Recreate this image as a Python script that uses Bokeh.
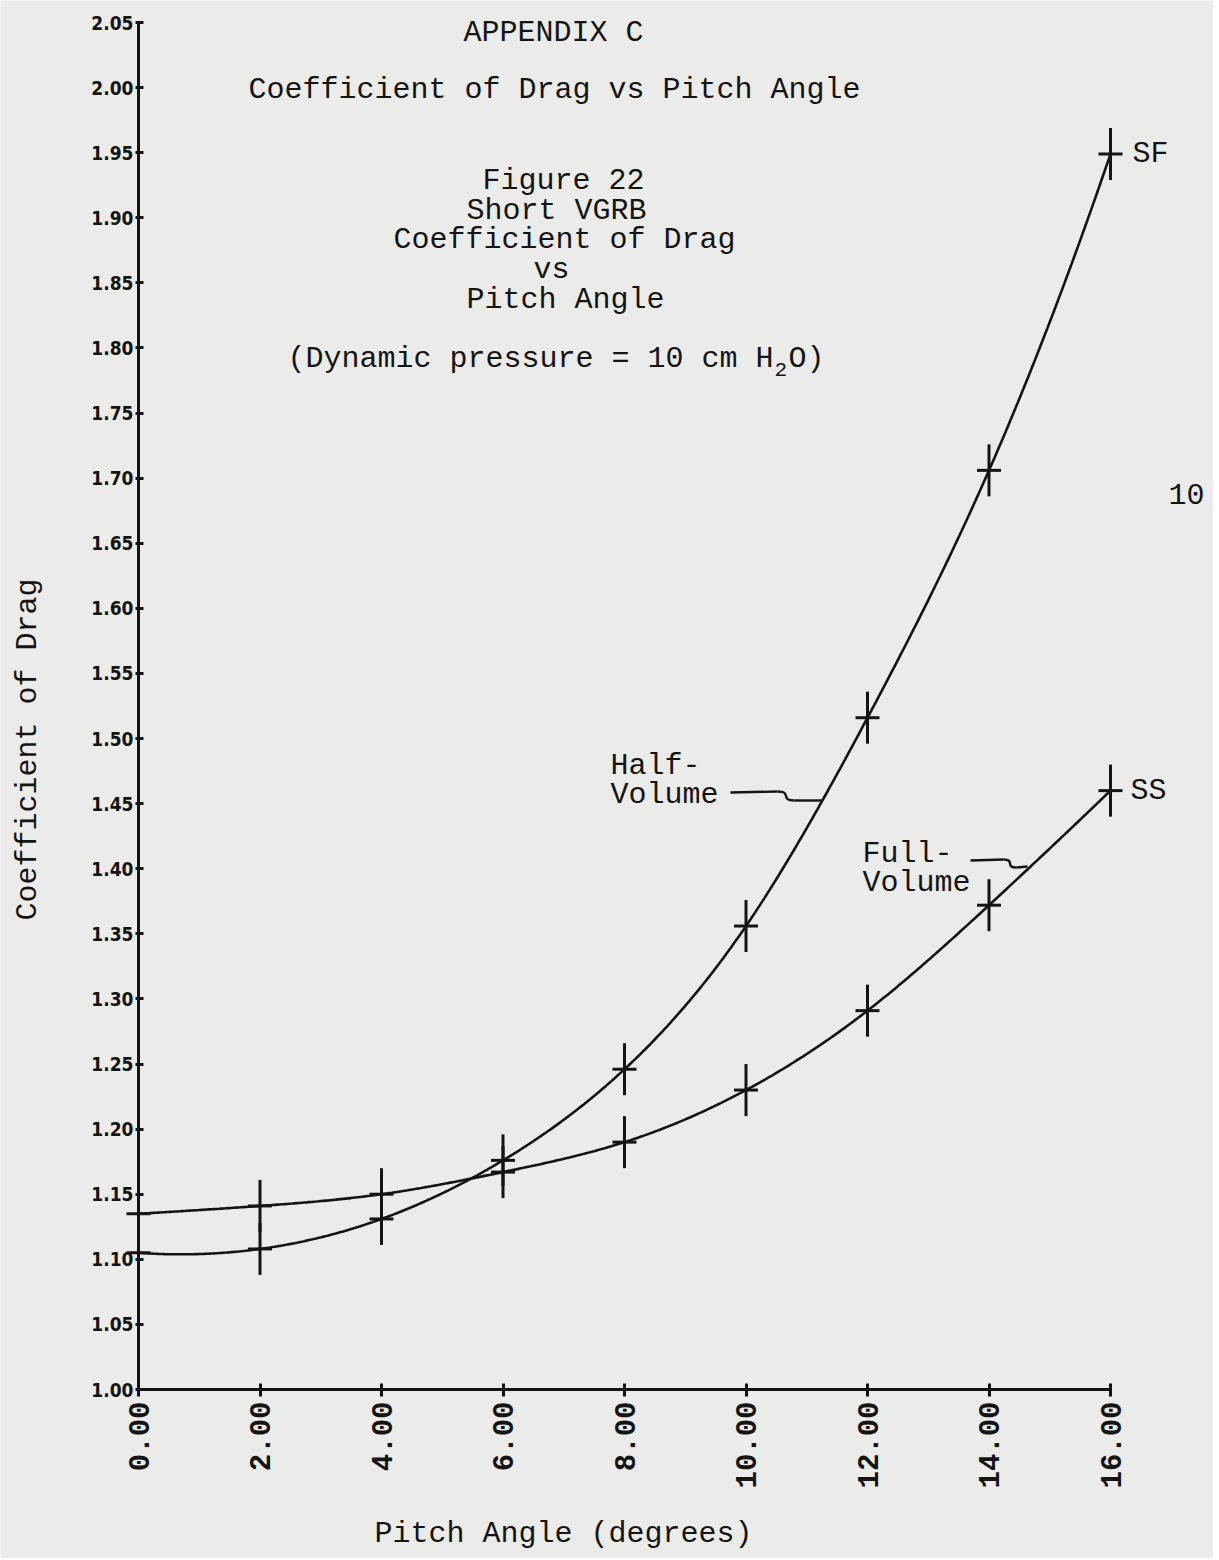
import numpy as np
from bokeh.plotting import figure
from bokeh.models import Range1d, FixedTicker, Label
from bokeh.embed import file_html
from bokeh.resources import INLINE

# ---------------- data ----------------
pitch_angle = [0, 2, 4, 6, 8, 10, 12, 14, 16]
cd_half_volume = [1.105, 1.108, 1.131, 1.176, 1.246, 1.356, 1.516, 1.706, 1.949]   # SF
cd_full_volume = [1.135, 1.141, 1.150, 1.167, 1.190, 1.230, 1.291, 1.372, 1.460]   # SS
series_tags = ["SF", "SS"]

x_ticks = [0, 2, 4, 6, 8, 10, 12, 14, 16]
x_tick_labels = ["0.00", "2.00", "4.00", "6.00", "8.00", "10.00", "12.00", "14.00", "16.00"]
y_ticks = [1.00, 1.05, 1.10, 1.15, 1.20, 1.25, 1.30, 1.35, 1.40, 1.45, 1.50,
           1.55, 1.60, 1.65, 1.70, 1.75, 1.80, 1.85, 1.90, 1.95, 2.00, 2.05]
y_tick_labels = ["1.00", "1.05", "1.10", "1.15", "1.20", "1.25", "1.30", "1.35", "1.40", "1.45", "1.50",
                 "1.55", "1.60", "1.65", "1.70", "1.75", "1.80", "1.85", "1.90", "1.95", "2.00", "2.05"]
x_min, x_max = 0, 16
y_min, y_max = 1.00, 2.05

INK = "#141414"
PAPER = "#ebebe9"
MONO = "Liberation Mono"

# page layout: where the axes sit on the page (pixels)
W, H = 1213, 1558
AX_L, AX_R, AX_T, AX_B = 138, 1110, 22, 1389


def dx(px):
    return x_min + (px - AX_L) * (x_max - x_min) / (AX_R - AX_L)


def dy(py):
    return y_min + (AX_B - py) * (y_max - y_min) / (AX_B - AX_T)


def smooth(xs, ys, n=400):
    """Cubic spline through the read points (parabolic run-out ends), for drawing only."""
    x = np.asarray(xs, float)
    y = np.asarray(ys, float)
    k = len(x)
    h = np.diff(x)
    A = np.zeros((k, k))
    r = np.zeros(k)
    A[0, 0], A[0, 1] = 1, -1
    A[-1, -1], A[-1, -2] = 1, -1
    for i in range(1, k - 1):
        A[i, i - 1] = h[i - 1]
        A[i, i] = 2 * (h[i - 1] + h[i])
        A[i, i + 1] = h[i]
        r[i] = 6 * ((y[i + 1] - y[i]) / h[i] - (y[i] - y[i - 1]) / h[i - 1])
    M = np.linalg.solve(A, r)
    xx = np.linspace(x[0], x[-1], n)
    idx = np.clip(np.searchsorted(x, xx, side="right") - 1, 0, k - 2)
    x0, x1 = x[idx], x[idx + 1]
    hh = x1 - x0
    a = (x1 - xx) / hh
    b = (xx - x0) / hh
    yy = a * y[idx] + b * y[idx + 1] + ((a ** 3 - a) * M[idx] + (b ** 3 - b) * M[idx + 1]) * hh ** 2 / 6
    return xx, yy


# ---------------- figure: the frame covers the whole page, axes are pinned ----------------
p = figure(width=W, height=H, output_backend="svg", toolbar_location=None,
           x_range=Range1d(dx(0), dx(W)), y_range=Range1d(dy(H), dy(0)),
           min_border=0, min_border_left=0, min_border_right=0,
           min_border_top=0, min_border_bottom=0)
p.background_fill_color = PAPER
p.border_fill_color = PAPER
p.outline_line_color = None
p.grid.visible = False

p.xaxis.fixed_location = y_min
p.xaxis.bounds = (x_min, x_max)
p.yaxis.fixed_location = x_min
p.yaxis.bounds = (y_min, y_max)

p.xaxis.ticker = FixedTicker(ticks=x_ticks)
p.xaxis.major_label_overrides = {t: l for t, l in zip(x_ticks, x_tick_labels)}
p.yaxis.ticker = FixedTicker(ticks=y_ticks)
p.yaxis.major_label_overrides = {t: l for t, l in zip(y_ticks, y_tick_labels)}
p.xaxis.major_label_orientation = np.pi / 2

for ax in (p.xaxis, p.yaxis):
    ax.axis_line_color = INK
    ax.axis_line_width = 3
    ax.major_tick_line_color = INK
    ax.major_tick_line_width = 3
    ax.minor_tick_line_color = None
    ax.major_label_text_color = INK
    ax.major_label_text_font_style = "bold"

p.xaxis.major_tick_in = 6
p.xaxis.major_tick_out = 7
p.xaxis.major_label_standoff = 5
p.xaxis.major_label_text_font = MONO
p.xaxis.major_label_text_font_size = "29px"

p.yaxis.major_tick_in = 5
p.yaxis.major_tick_out = 3
p.yaxis.major_label_standoff = 2
p.yaxis.major_label_text_font = "Liberation Sans Narrow, DejaVu Sans Condensed, DejaVu Sans"
p.yaxis.major_label_text_font_size = "19px"

# curves with crosses at the measured points
for ys in (cd_half_volume, cd_full_volume):
    xx, yy = smooth(pitch_angle, ys)
    p.line(xx, yy, line_color=INK, line_width=2.6)
    p.scatter(pitch_angle, ys, marker="dash", size=52, angle=np.pi / 2,
              line_color=INK, line_width=3)
    p.scatter(pitch_angle, ys, marker="dash", size=24,
              line_color=INK, line_width=3)


# ---------------- texts ----------------
def note(text, x, y, size="30px", align="left", angle=0.0):
    p.add_layout(Label(x=x, y=y, text=text, text_font=MONO, text_font_size=size,
                       text_color=INK, text_align=align, text_baseline="middle", angle=angle))


# axis titles
note("Coefficient of Drag", dx(27), dy(749), align="center", angle=np.pi / 2)
note("Pitch Angle (degrees)", dx(563), dy(1533), align="center")

# curve tags at the last measured points, and the page number
note(series_tags[0], pitch_angle[-1] + dx(1132) - dx(AX_R), cd_half_volume[-1])
note(series_tags[1], pitch_angle[-1] + dx(1130) - dx(AX_R), cd_full_volume[-1])
note("10", dx(1168), dy(493))

note("APPENDIX C", dx(463), dy(32))
note("Coefficient of Drag vs Pitch Angle", dx(248), dy(89))
note("Figure 22", dx(482), dy(180))
note("Short VGRB", dx(466), dy(210))
note("Coefficient of Drag", dx(393), dy(239))
note("vs", dx(533), dy(269))
note("Pitch Angle", dx(466), dy(299))
note("(Dynamic pressure = 10 cm H", dx(287), dy(358))
note("2", dx(774), dy(369), size="21px")
note("O)", dx(788), dy(358))
note("Half-", dx(610), dy(765))
note("Volume", dx(610), dy(794))
note("Full-", dx(862), dy(853))
note("Volume", dx(862), dy(882))

# leader lines from the curve names to the curves
p.line([dx(730), dx(777)], [dy(792), dy(791)], line_color=INK, line_width=2.4)
p.bezier(x0=[dx(777)], y0=[dy(791)], x1=[dx(794)], y1=[dy(800)],
         cx0=[dx(792)], cy0=[dy(791)], cx1=[dx(779)], cy1=[dy(800)],
         line_color=INK, line_width=2.4)
p.line([dx(794), dx(822)], [dy(800), dy(800)], line_color=INK, line_width=2.4)

p.line([dx(970), dx(1003)], [dy(860), dy(859)], line_color=INK, line_width=2.4)
p.bezier(x0=[dx(1003)], y0=[dy(859)], x1=[dx(1016)], y1=[dy(867)],
         cx0=[dx(1015)], cy0=[dy(859)], cx1=[dx(1004)], cy1=[dy(867)],
         line_color=INK, line_width=2.4)
p.line([dx(1016), dx(1027)], [dy(867), dy(866)], line_color=INK, line_width=2.4)

open("out.html", "w").write(file_html(p, INLINE))
